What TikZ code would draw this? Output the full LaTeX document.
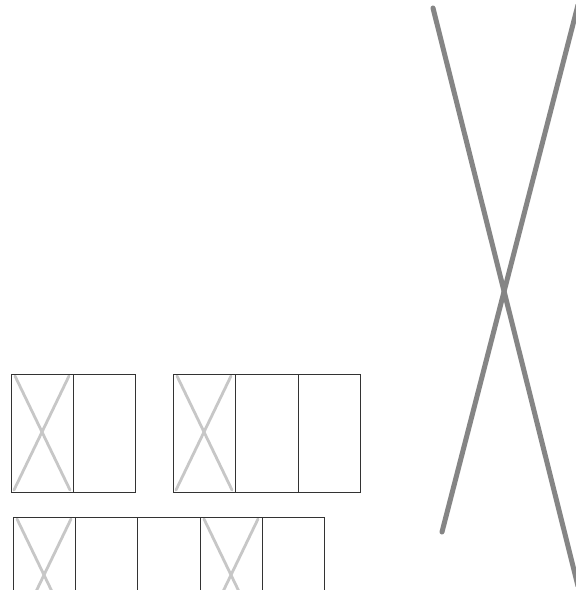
\documentclass[tikz,border=0pt]{standalone}
\begin{document}
\begin{tikzpicture}[x=1pt,y=-1pt,
  cellbox/.style={draw=black!80,line width=0.9pt},
  cellx/.style={draw=black!22,line width=2.8pt,line cap=round},
  bigx/.style={draw=black!48,line width=5pt,line cap=round}]
\useasboundingbox (0,0) rectangle (576,590);
\clip (0,0) rectangle (576,590);
\fill[white] (0,0) rectangle (576,590);
% big X
\coordinate (a1) at (433,8);
\coordinate (a2) at (578,586);
\coordinate (b1) at (442,532);
\coordinate (b2) at (578,5);
\draw[bigx] (a1) -- (a2);
\draw[bigx] (b1) -- (b2);
% row 1, group 1
\draw[cellx] (15,376) -- (70,490);
\draw[cellx] (69,376) -- (14,490);
\draw[cellbox] (11,374) rectangle (135,492);
\draw[cellbox] (73,374) -- (73,492);
% row 1, group 2
\draw[cellx] (177,376) -- (232,490);
\draw[cellx] (231,376) -- (176,490);
\draw[cellbox] (173,374) rectangle (360,492);
\draw[cellbox] (235,374) -- (235,492);
\draw[cellbox] (298,374) -- (298,492);
% row 2
\draw[cellx] (17,519) -- (72,633);
\draw[cellx] (71,519) -- (16,633);
\draw[cellx] (204,519) -- (259,633);
\draw[cellx] (258,519) -- (203,633);
\draw[cellbox] (13,517) rectangle (324,635);
\draw[cellbox] (75,517) -- (75,635);
\draw[cellbox] (137,517) -- (137,635);
\draw[cellbox] (200,517) -- (200,635);
\draw[cellbox] (262,517) -- (262,635);
\end{tikzpicture}
\end{document}
